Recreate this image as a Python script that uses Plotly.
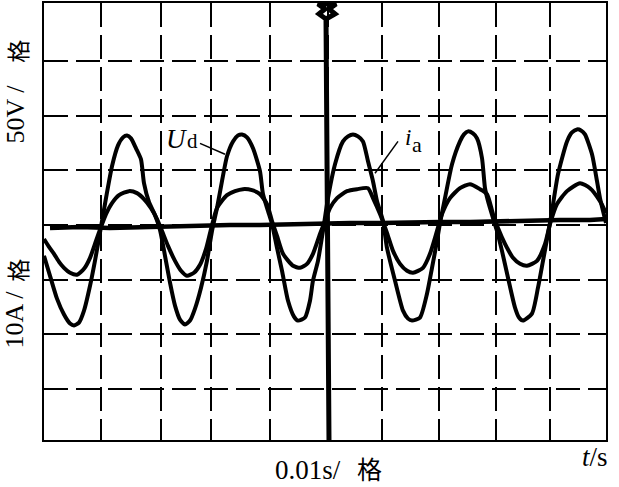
import plotly.graph_objects as go

# ---------------- data (time in ms, 0.01 s / division) ----------------
V_PER_DIV = 50   # Ud channel: 50 V / div
A_PER_DIV = 10   # ia channel: 10 A / div

t_ud = [0.0, 1.07, 2.31, 3.56, 4.63, 5.34, 6.23, 7.12, 8.19, 9.07,
        10.14, 11.03, 12.10, 13.17, 14.06, 14.77, 15.48, 16.37, 17.26, 17.79,
        18.68, 19.75, 20.64, 21.53, 22.42, 23.31, 24.20, 25.09, 25.98, 26.87,
        27.94, 29.00, 29.89, 30.78, 31.67, 32.56, 33.63, 34.52, 35.23, 36.12,
        37.19, 38.43, 38.97, 39.86, 40.57, 41.46, 42.35, 43.42, 44.48, 45.20,
        46.44, 47.33, 47.86, 48.75, 49.64, 50.53, 51.78, 53.20, 54.09, 54.98,
        55.87, 56.76, 57.65, 58.54, 59.25, 60.32, 61.03, 62.46, 63.88, 64.77,
        65.48, 66.90, 68.15, 69.04, 69.93, 70.46, 71.35, 72.60, 74.02, 74.73,
        75.44, 76.33, 77.05, 77.94, 78.47, 79.00, 79.89, 80.60, 81.49, 82.56,
        83.81, 84.52, 85.23, 86.83, 87.90, 88.79, 89.68, 90.39, 91.46, 93.06,
        93.95, 94.84, 95.55, 96.26, 97.51, 98.40, 98.93, 100.0]
ud_V = [-28.2, -46.5, -67.4, -82.0, -90.2, -92.0, -89.3, -78.4, -55.6, -32.8,
        -1.8, 24.6, 53.8, 72.9, 80.2, 82.0, 79.3, 70.2, 60.1, 38.3,
        21.0, 9.1, -4.6, -28.2, -52.8, -73.8, -86.6, -91.1, -87.5, -76.5,
        -57.4, -32.8, -5.5, 15.5, 40.1, 62.9, 76.5, 82.0, 82.9, 80.2,
        70.2, 49.2, 28.2, 12.8, 0.9, -21.0, -41.9, -69.3, -83.8, -87.5,
        -84.7, -69.3, -51.0, -32.8, -5.5, 24.6, 55.6, 76.5, 81.1, 82.9,
        81.1, 76.5, 58.3, 40.1, 21.9, 3.6, -21.0, -51.0, -78.4, -85.7,
        -87.5, -84.7, -62.9, -39.2, -14.6, 1.8, 24.6, 55.6, 76.5, 82.9,
        85.7, 83.8, 79.3, 61.1, 33.7, 21.9, 6.4, -5.5, -23.7, -48.3,
        -75.6, -84.7, -87.5, -81.1, -57.4, -32.8, -8.2, 12.8, 46.5, 76.5,
        84.7, 87.5, 86.6, 82.9, 64.7, 40.1, 24.6, 1.8]

t_ia = [0.0, 0.89, 1.78, 2.67, 3.56, 4.63, 5.87, 7.12, 8.19, 9.25,
        10.14, 11.03, 12.10, 13.35, 15.12, 16.55, 17.79, 19.04, 20.11, 21.00,
        22.06, 23.31, 24.38, 25.44, 26.69, 27.76, 28.83, 29.72, 30.78, 32.56,
        33.99, 35.41, 37.01, 38.43, 39.68, 40.57, 41.46, 42.53, 44.31, 45.55,
        46.80, 47.86, 49.11, 50.00, 50.89, 52.14, 53.91, 55.69, 57.65, 58.54,
        59.79, 61.03, 62.10, 63.35, 64.59, 65.66, 67.44, 68.68, 69.93, 70.82,
        72.24, 74.02, 75.80, 77.58, 78.83, 79.89, 80.78, 82.03, 83.45, 84.70,
        85.94, 87.72, 89.15, 90.04, 91.28, 93.06, 95.37, 97.15, 98.93, 100.0]
ia_A = [-2.55, -4.01, -5.28, -6.74, -7.84, -8.75, -9.11, -8.02, -6.01, -2.92,
        -0.36, 2.00, 4.01, 5.47, 6.20, 5.83, 4.74, 3.10, 1.09, -1.09,
        -3.83, -6.56, -8.38, -9.29, -8.75, -7.29, -4.37, -0.73, 3.10, 5.47,
        6.20, 6.56, 6.38, 5.65, 3.83, 0.73, -2.00, -5.28, -7.47, -7.84,
        -7.11, -5.28, -1.64, 0.73, 3.10, 4.92, 6.20, 6.56, 6.74, 4.92,
        2.00, -1.46, -4.74, -7.11, -8.38, -8.75, -7.84, -5.28, -1.09, 2.00,
        4.92, 6.74, 7.47, 6.56, 5.65, 2.00, -0.55, -3.46, -6.01, -7.11,
        -7.47, -6.56, -3.46, 0.18, 3.83, 6.20, 7.65, 6.74, 4.37, 2.19]

# flat reference trace
t_base = [1.07, 6.41, 11.74, 17.08, 22.42, 27.76, 33.10, 38.43, 43.77, 49.11,
          54.45, 59.79, 65.12, 70.46, 75.80, 81.14, 86.48, 91.81, 97.15, 100.0]
base_V = [-2.7, -1.8, -2.7, -1.8, -1.8, -0.9, 0.0, 0.0, 0.9, 0.9,
          1.8, 1.8, 2.7, 2.7, 2.7, 3.6, 3.6, 4.6, 4.6, 5.5]

# switching transient (vertical trace) with loop at the top
spike_t = [50.71, 50.53, 50.36, 50.18, 50.18, 48.93, 50.00, 48.75, 51.96, 50.71, 51.78, 50.18]
spike_V = [-196.8, -96.6, 0.0, 113.0, 188.6, 193.2, 197.7, 202.3, 202.3, 197.7, 193.2, 188.6]

grid_t_ms = [10.14, 20.82, 29.72, 40.21, 50.53, 60.14, 70.28, 80.43, 90.04]
grid_V = [-150, -100, -50, 0, 50, 100, 150]

# ---------------- figure ----------------
W, H = 619, 487
ML, MR, MT, MB = 44, 13, 1, 47
PW, PH = W - ML - MR, H - MT - MB


def pxx(x):
    return (x - ML) / PW


def pxy(y):
    return (MT + PH - y) / PH


fig = go.Figure()
LINE = dict(color="black", width=4, shape="spline", smoothing=0.6)
fig.add_trace(go.Scatter(x=t_base, y=base_V, mode="lines",
                         line=dict(color="black", width=4.5), hoverinfo="skip"))
fig.add_trace(go.Scatter(x=t_ia, y=ia_A, yaxis="y2", mode="lines", line=LINE, hoverinfo="skip"))
fig.add_trace(go.Scatter(x=t_ud, y=ud_V, mode="lines", line=LINE, hoverinfo="skip"))
fig.add_trace(go.Scatter(x=spike_t, y=spike_V, mode="lines",
                         line=dict(color="black", width=5), hoverinfo="skip"))

grid = dict(showgrid=True, gridcolor="black", gridwidth=1.6, griddash="24px,8px",
            zeroline=False, showline=True, mirror=True, linecolor="black", linewidth=2,
            ticks="", showticklabels=False)

v_top = 203.2
v_bot = -196.8
fig.update_layout(
    width=W, height=H,
    margin=dict(l=ML, r=MR, t=MT, b=MB, pad=0),
    paper_bgcolor="white", plot_bgcolor="white",
    showlegend=False,
    xaxis=dict(range=[0, 100], tickvals=grid_t_ms, **grid),
    yaxis=dict(range=[v_bot, v_top], tickvals=grid_V, **grid),
    yaxis2=dict(range=[v_bot / V_PER_DIV * A_PER_DIV, v_top / V_PER_DIV * A_PER_DIV],
                overlaying="y", showgrid=False, zeroline=False, showline=False,
                showticklabels=False, ticks=""),
)

SERIF = "Liberation Serif"
CJK = "Noto Sans CJK SC"


def txt(x, y, s, size, angle=0, family=SERIF):
    fig.add_annotation(xref="paper", yref="paper", x=pxx(x), y=pxy(y), text=s,
                       showarrow=False, textangle=angle,
                       font=dict(family=family, size=size, color="black"),
                       xanchor="center", yanchor="middle")


txt(176, 138, "<i>U</i>", 27)
txt(192, 140, "d", 21)
txt(408, 136, "<i>i</i>", 23)
txt(417, 143, "a", 22)

# rotated scale labels
txt(15, 113, "50V /", 26, -90)
txt(17, 50, "格", 23, -90, CJK)
txt(15, 319, "10A /", 26, -90)
txt(17, 270, "格", 23, -90, CJK)

# bottom labels
txt(308, 470, "0.01s/", 27)
txt(369, 468, "格", 25, 0, CJK)
txt(595, 457, "<i>t</i>/s", 27)

# leader lines
for (x0, y0, x1, y1) in [(200, 142, 225, 153), (398, 140, 375, 172)]:
    fig.add_shape(type="line", xref="paper", yref="paper",
                  x0=pxx(x0), y0=pxy(y0), x1=pxx(x1), y1=pxy(y1),
                  line=dict(color="black", width=1.5))

fig.write_html("out.html", config={"displayModeBar": False},
               post_script="document.body.style.margin='0';document.body.style.padding='0';"
                           "document.body.style.overflow='hidden';")
